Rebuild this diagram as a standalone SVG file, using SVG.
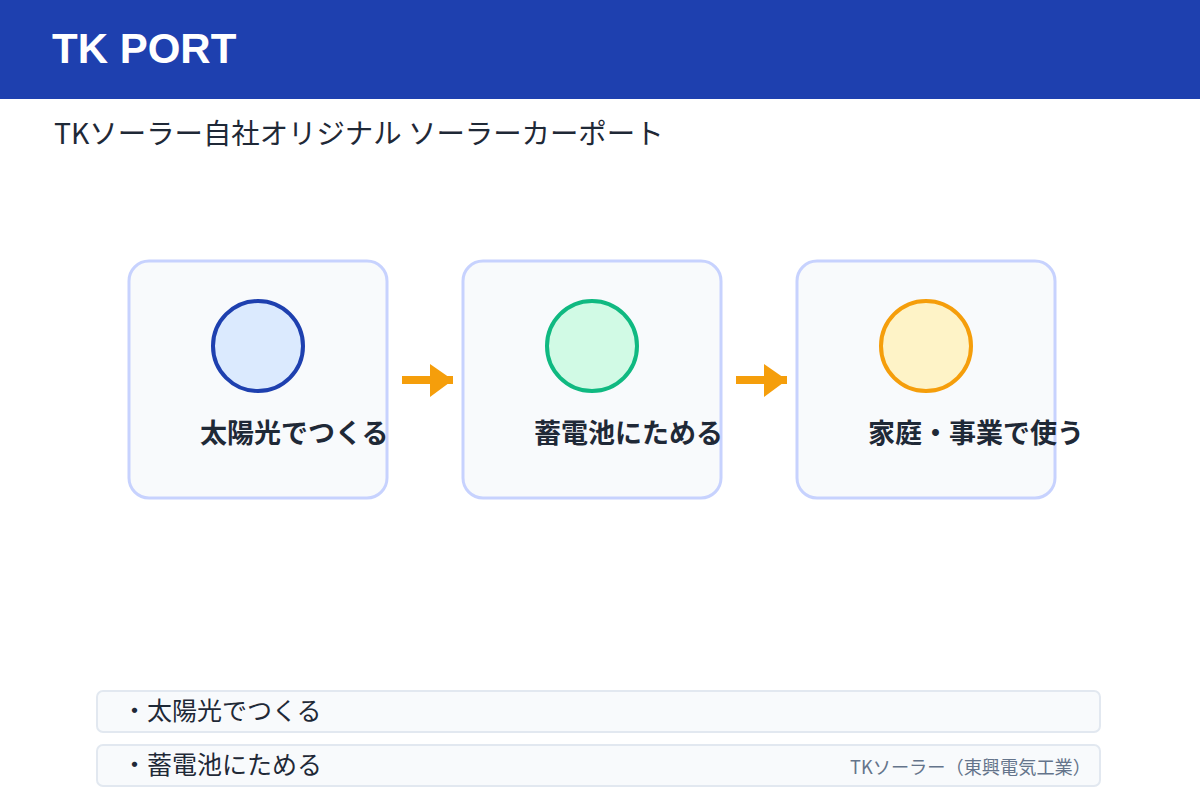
<svg xmlns="http://www.w3.org/2000/svg" width="1200" height="800" viewBox="0 0 1200 800">
<style>
.card{fill:#f8fafc;stroke:#c7d2fe;stroke-width:3}
.lbl{font-family:"Noto Sans CJK JP","Noto Sans",sans-serif;font-size:27px;font-weight:bold;fill:#1f2937}
.row{fill:#f8fafc;stroke:#e2e8f0;stroke-width:2}
.rowt{font-family:"Noto Sans CJK JP","Noto Sans",sans-serif;font-size:25px;fill:#1f2937}
.arr{fill:#f59e0b}
</style>
<rect x="0" y="0" width="1200" height="800" fill="#ffffff"/>
<rect x="0" y="0" width="1200" height="99" fill="#1e40af"/>
<text x="52" y="63" font-family="'Liberation Sans',Arial,sans-serif" font-size="42" font-weight="bold" fill="#ffffff">TK PORT</text>
<text x="54" y="144" font-family="'Noto Sans CJK JP','Noto Sans',sans-serif" font-size="28.4" fill="#1f2937">TKソーラー自社オリジナル ソーラーカーポート</text>
<g id="connectors">
<g id="arrow1"><rect class="arr" x="402" y="376" width="51" height="8"/><polygon class="arr" points="430,364 453,380 430,397"/></g>
<g id="arrow2"><rect class="arr" x="736" y="376" width="51" height="8"/><polygon class="arr" points="764,364 787,380 764,397"/></g>
</g>
<g id="node1">
<rect class="card" x="129" y="261" width="258" height="237" rx="20"/>
<circle cx="258" cy="346" r="45" fill="#dbeafe" stroke="#1e40af" stroke-width="4"/>
<text class="lbl" x="200" y="443">太陽光でつくる</text>
</g>
<g id="node2">
<rect class="card" x="463" y="261" width="258" height="237" rx="20"/>
<circle cx="592" cy="346" r="45" fill="#d1fae5" stroke="#10b981" stroke-width="4"/>
<text class="lbl" x="534" y="443">蓄電池にためる</text>
</g>
<g id="node3">
<rect class="card" x="797" y="261" width="258" height="237" rx="20"/>
<circle cx="926" cy="346" r="45" fill="#fef3c7" stroke="#f59e0b" stroke-width="4"/>
<text class="lbl" x="868" y="443">家庭・事業で使う</text>
</g>
<g id="row1">
<rect class="row" x="97" y="691" width="1003" height="41" rx="6"/>
<text class="rowt" x="122" y="720">・太陽光でつくる</text>
</g>
<g id="row2">
<rect class="row" x="97" y="745" width="1003" height="41" rx="6"/>
<text class="rowt" x="122" y="774">・蓄電池にためる</text>
<text x="1091" y="774" text-anchor="end" font-family="'Noto Sans CJK JP','Noto Sans',sans-serif" font-size="18.2" fill="#64748b">TKソーラー（東興電気工業）</text>
</g>
</svg>
